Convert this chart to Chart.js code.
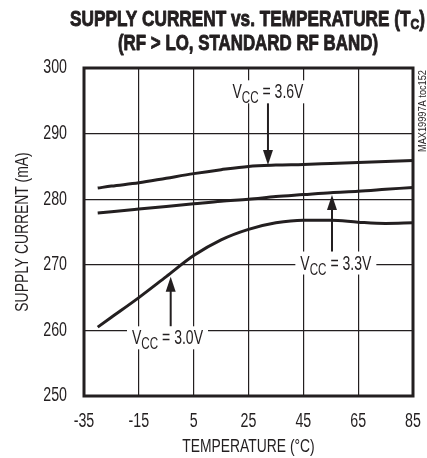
<!DOCTYPE html>
<html><head><meta charset="utf-8">
<script src="https://cdn.jsdelivr.net/npm/chart.js@4"></script>
<style>html,body{margin:0;padding:0;background:#fff}canvas{display:block}</style>
</head><body>
<canvas id="c" width="427" height="458"></canvas>
<script>
// ---- data ----
const temperatures = [-30, -25, -15, -5, 5, 15, 25, 35, 45, 55, 65, 75, 85];
const current36 = [281.7, 282.0, 282.5, 283.2, 283.9, 284.5, 285.0, 285.2, 285.3, 285.45, 285.6, 285.75, 285.9];
const current33 = [277.9, 278.1, 278.5, 278.9, 279.3, 279.7, 280.0, 280.4, 280.7, 281.0, 281.2, 281.5, 281.8];
const current30 = [260.5, 262.0, 265.0, 268.2, 271.4, 273.8, 275.4, 276.4, 276.8, 276.8, 276.5, 276.3, 276.4];
const xTicks = [-35, -15, 5, 25, 45, 65, 85];
const yTicks = [250, 260, 270, 280, 290, 300];
const seriesVolts = ['3.6V', '3.3V', '3.0V'];

// ---- styling / annotation placement ----
const FAM = '"Liberation Sans", Arial, sans-serif';
const INK = '#231f20';
const SQ = 0.73; // horizontal squeeze to mimic the condensed typeface
const callouts = [
  { v: seriesVolts[0], cx: 32.1, base: 295.38, ax: 32.1, from: 294.66, to: 285.21 },
  { v: seriesVolts[1], cx: 56.86, base: 269.28, ax: 55.45, from: 271.95, to: 280.64 },
  { v: seriesVolts[2], cx: -4.55, base: 257.88, ax: -3.38, from: 260.56, to: 268.19 }
];

const canvas = document.getElementById('c');
const ctx2d = canvas.getContext('2d');
const rawFill = ctx2d.fillText.bind(ctx2d);
ctx2d.fillText = function (t, x, y) {
  this.save(); this.translate(x, y); this.scale(SQ, 1); rawFill(t, 0, 0); this.restore();
};

function drawParts(ctx, parts, cx, y, width, weight, embolden) {
  let total = 0;
  parts.forEach(p => { ctx.font = `${weight} ${p.size}px ${FAM}`; p.w = ctx.measureText(p.t).width; total += p.w; });
  const s = width / total;
  ctx.save();
  ctx.translate(cx - width / 2, y);
  ctx.scale(s, 1);
  ctx.textAlign = 'left';
  ctx.textBaseline = 'alphabetic';
  let x = 0;
  parts.forEach(p => {
    ctx.font = `${weight} ${p.size}px ${FAM}`;
    rawFill(p.t, x, p.dy || 0);
    if (embolden) { ctx.lineWidth = embolden; ctx.lineJoin = 'round'; ctx.strokeText(p.t, x, p.dy || 0); }
    x += p.w;
  });
  ctx.restore();
}

const decor = {
  id: 'decor',
  afterDraw(chart) {
    const ctx = chart.ctx, xs = chart.scales.x, ys = chart.scales.y, a = chart.chartArea;
    ctx.save();
    ctx.fillStyle = INK; ctx.strokeStyle = INK;
    const labelW = 71;
    callouts.forEach(c => {
      const px = xs.getPixelForValue(c.cx), py = ys.getPixelForValue(c.base);
      const ax = xs.getPixelForValue(c.ax), y0 = ys.getPixelForValue(c.from), y1 = ys.getPixelForValue(c.to);
      const dir = y1 > y0 ? 1 : -1;
      ctx.lineWidth = 2;
      ctx.beginPath(); ctx.moveTo(ax, y0); ctx.lineTo(ax, y1 - dir * 12); ctx.stroke();
      ctx.beginPath(); ctx.moveTo(ax, y1); ctx.lineTo(ax - 5, y1 - dir * 15); ctx.lineTo(ax + 5, y1 - dir * 15); ctx.closePath(); ctx.fill();
      ctx.fillStyle = '#fff';
      ctx.fillRect(px - labelW / 2 - 5, py - 18, labelW + 10, 23);
      ctx.fillStyle = INK;
      drawParts(ctx, [{ t: 'V', size: 20.5 }, { t: 'CC', size: 17, dy: 5 }, { t: ' = ' + c.v, size: 20.5 }], px, py, labelW, 'normal');
    });
    ctx.lineWidth = 3;
    ctx.strokeRect(a.left, a.top, a.right - a.left, a.bottom - a.top);
    drawParts(ctx, [{ t: 'SUPPLY CURRENT vs. TEMPERATURE (T', size: 22 }, { t: 'C', size: 15.5, dy: 3 }, { t: ')', size: 22 }], 247.5, 25.5, 355, 'bold', 0.9);
    drawParts(ctx, [{ t: '(RF > LO, STANDARD RF BAND)', size: 22 }], 248, 49.5, 260, 'bold', 0.9);
    ctx.save();
    ctx.translate(426, 111);
    ctx.rotate(-Math.PI / 2);
    drawParts(ctx, [{ t: 'MAX19997A toc152', size: 10.5 }], 0, 0, 82, 'normal');
    ctx.restore();
    ctx.restore();
  }
};

const lineStyle = { borderColor: INK, borderWidth: 3, pointRadius: 0, fill: false, cubicInterpolationMode: 'monotone' };
const toXY = arr => temperatures.map((t, i) => ({ x: t, y: arr[i] }));
const noPad = s => { s.paddingLeft = 0; s.paddingRight = 0; s.paddingTop = 0; s.paddingBottom = 0; };

new Chart(ctx2d, {
  type: 'line',
  data: {
    datasets: [
      { label: 'VCC = ' + seriesVolts[0], data: toXY(current36), ...lineStyle },
      { label: 'VCC = ' + seriesVolts[1], data: toXY(current33), ...lineStyle },
      { label: 'VCC = ' + seriesVolts[2], data: toXY(current30), ...lineStyle }
    ]
  },
  options: {
    responsive: false, animation: false, devicePixelRatio: 1,
    layout: { padding: { left: 11, top: 68, right: 14, bottom: 0 } },
    plugins: { legend: { display: false }, title: { display: false }, tooltip: { enabled: false } },
    scales: {
      x: {
        type: 'linear', min: -35, max: 85,
        afterBuildTicks: s => { s.ticks = xTicks.map(v => ({ value: v })); },
        afterFit: s => { s.height = 62; noPad(s); },
        grid: { color: INK, lineWidth: 1.2, drawTicks: false },
        border: { display: false },
        ticks: { color: INK, padding: 14, maxRotation: 0, autoSkip: false, font: { family: FAM, size: 19.5 } },
        title: { display: true, text: 'TEMPERATURE (°C)', color: INK, padding: 0, font: { family: FAM, size: 19 } }
      },
      y: {
        min: 250, max: 300,
        afterBuildTicks: s => { s.ticks = yTicks.map(v => ({ value: v })); },
        afterFit: s => { s.width = 73; noPad(s); },
        grid: { color: INK, lineWidth: 1.2, drawTicks: false },
        border: { display: false },
        ticks: { color: INK, padding: 17, font: { family: FAM, size: 19.5 } },
        title: { display: true, text: 'SUPPLY CURRENT (mA)', color: INK, padding: 0, font: { family: FAM, size: 19 } }
      }
    }
  },
  plugins: [decor]
});
</script>
</body></html>
